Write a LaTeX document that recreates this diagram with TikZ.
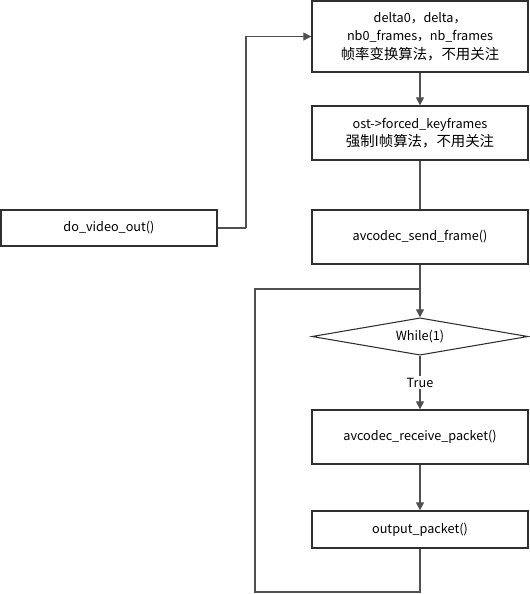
\documentclass[tikz,border=0pt]{standalone}
\usepackage{fontspec}
\setmainfont{Noto Sans CJK SC}
\usetikzlibrary{arrows.meta,shapes.geometric}

\definecolor{linegray}{HTML}{505050}
\definecolor{boxgray}{HTML}{303030}

\newcommand{\zhline}[1]{{\fontsize{10.8pt}{14pt}\selectfont #1}}

\tikzset{
  procbox/.style={rectangle, draw=boxgray, line width=1pt, minimum width=162pt,
    inner sep=0pt, align=center, font=\fontsize{9.5pt}{14pt}\selectfont},
  decision/.style={diamond, draw=boxgray, line width=0.8pt, aspect=5.8,
    minimum width=162pt, minimum height=28pt, inner sep=0pt, font=\fontsize{9.5pt}{14pt}\selectfont},
  flow/.style={draw=linegray, line width=0.9pt},
  arr/.style={flow, -{Triangle[width=6pt,length=6pt]}}
}

\begin{document}
\begin{tikzpicture}[x=0.75pt, y=-0.75pt]
    \useasboundingbox (0, 0) rectangle (530, 594);

    \node[procbox, minimum height=53.25pt] (rate) at (420, 36.5)
      {delta0，delta，\\nb0\_frames，nb\_frames\\\zhline{帧率变换算法，不用关注}};
    \node[procbox, minimum height=40.5pt] (keyf) at (420, 133)
      {ost->forced\_keyframes\\\zhline{强制I帧算法，不用关注}};
    \node[procbox, minimum height=40.5pt] (send) at (420, 237) {avcodec\_send\_frame()};

    \node[procbox, minimum height=27pt] (vout) at (109, 228) {do\_video\_out()};
    \coordinate (j1) at (246, 228);

    \node[decision] (cond) at (420, 336.5) {While(1)};

    \node[procbox, minimum height=40.5pt] (recv) at (420, 437) {avcodec\_receive\_packet()};
    \node[procbox, minimum height=27.75pt] (outp) at (420, 529.5) {output\_packet()};

    \coordinate (lp1) at (420, 592);
    \coordinate (lp2) at (255, 592);
    \coordinate (lp3) at (255, 289);
    \coordinate (lp4) at (420, 289);

    \draw[flow] (vout.east)
    -- (j1);
    \draw[arr] (j1)
    |- (rate.west);

    \draw[arr] (rate)
    -- (keyf);
    \draw[flow] (keyf)
    -- (send);
    \draw[arr] (send)
    -- (cond.north);

    \draw[arr] (cond.south)
    -- node[fill=white, inner sep=1pt, font=\fontsize{9.5pt}{11pt}\selectfont] {True} (recv);
    \draw[arr] (recv)
    -- (outp);

    \draw[flow] (outp.south)
    -- (lp1)
    -- (lp2)
    -- (lp3)
    -- (lp4);

  \end{tikzpicture}
\end{document}
